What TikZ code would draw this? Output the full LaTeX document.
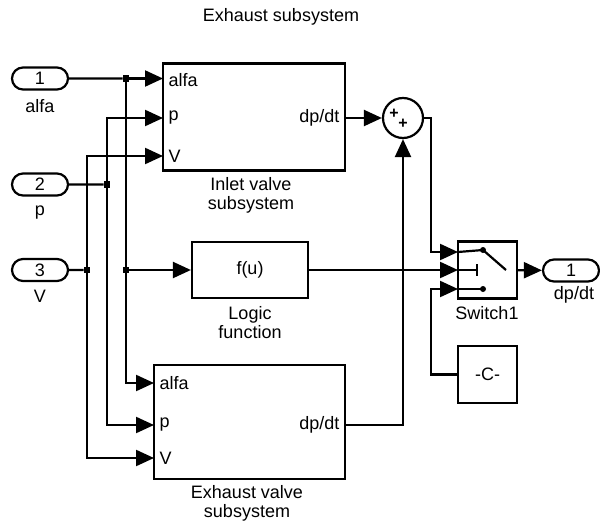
\documentclass[tikz,border=0pt]{standalone}
\usepackage{fontspec}
\setmainfont{Liberation Sans}
\usetikzlibrary{arrows.meta,shapes.misc}

\tikzset{
  blk/.style={draw,line width=2.2pt,inner sep=0pt},
  port/.style={draw,line width=2.2pt,rounded rectangle,minimum width=56pt,minimum height=22pt,inner sep=0pt},
  wire/.style={line width=2.2pt},
  sig/.style={wire,-{Triangle[length=18pt,width=16pt]}},
  jdot/.style={fill,inner sep=0pt,minimum size=6.5pt},
  plus/.style={font=\fontsize{16}{16}\selectfont\bfseries,inner sep=0pt}
}

\begin{document}
\begin{tikzpicture}[x=1pt,y=-1pt,font=\fontsize{18}{19}\selectfont]
\useasboundingbox (0,0) rectangle (600,525);
\node at (281,17) {Exhaust subsystem};
% ports
\node[port] (in1) at (40,78.5) {1}; \node (in1l) at (40,106) {alfa};
\node[port] (in2) at (40,184.5) {2}; \node (in2l) at (40,213) {p};
\node[port] (in3) at (40,270) {3}; \node (in3l) at (40,296) {V};
\node[port] (out1) at (571,270.5) {1}; \node (out1l) at (574,295) {dp/dt};
% blocks
\node[blk,minimum width=182pt,minimum height=107pt] (inlet) at (254,117) {};
\node[blk,minimum width=116pt,minimum height=56pt] (logic) at (250,270) {f(u)};
\node[blk,minimum width=191pt,minimum height=114pt] (exh) at (249.5,422) {};
\node[blk,minimum width=59pt,minimum height=57pt] (sw) at (487.5,270) {};
\node[blk,minimum width=59pt,minimum height=57pt] (const) at (487.5,374.5) {-C-};
\node[draw,circle,line width=2.2pt,minimum size=40pt,inner sep=0pt] (sum) at (403,118) {};
\node[plus] at (394,114) {+};
\node[plus] at (403,124) {+};
% block labels
\node[align=center] at (251,195) {Inlet valve\\subsystem};
\node[align=center] at (250,323) {Logic\\function};
\node[align=center] at (247,503) {Exhaust valve\\subsystem};
\node at (487,313) {Switch1};
% port texts
\node[anchor=west] at (165,80) {alfa}; \node[anchor=west] at (165,118) {p}; \node[anchor=west] at (165,156) {V};
\node[anchor=east] at (343,118) {dp/dt};
\node[anchor=west] at (156,383) {alfa}; \node[anchor=west] at (156,425) {p}; \node[anchor=west] at (156,458) {V};
\node[anchor=east] at (343,425) {dp/dt};
% inputs
\coordinate (ia) at (163,78.5); \coordinate (ip) at (163,118); \coordinate (iv) at (163,156);
\coordinate (ea) at (154,383); \coordinate (ep) at (154,425); \coordinate (ev) at (154,458);
\node[jdot] (ja) at (126,78.5) {}; \node[jdot] (jl) at (126,270) {};
\node[jdot] (jp) at (107,184.5) {}; \node[jdot] (jv) at (87,270) {};
\draw[wire] (in1) -- (ja); \draw[sig] (ja) -- (ia);
\draw[wire] (ja) -- (jl); \draw[sig] (jl) |- (ea); \draw[sig] (jl) -- (logic);
\draw[wire] (in2) -- (jp); \draw[sig] (jp) |- (ip); \draw[sig] (jp) |- (ep);
\draw[wire] (in3) -- (jv); \draw[sig] (jv) |- (iv); \draw[sig] (jv) |- (ev);
% sum and switch
\coordinate (s1) at (458,252); \coordinate (s2) at (458,270); \coordinate (s3) at (458,289);
\coordinate (bs) at (431,118); \coordinate (bc) at (431,374.5);
\draw[sig] (inlet.east |- sum) -- (sum.west);
\draw[sig] (exh.east |- ep) -| (sum.south);
\draw[sig] (sum.east) -- (bs) |- (s1);
\draw[sig] (logic) -- (s2);
\draw[sig] (const.west) -- (bc) |- (s3);
\draw[sig] (sw) -- (out1);
% switch icon
\draw[wire] (s1) -- (483,250) -- (506,270); \fill (483,250) circle (3pt);
\draw[wire] (s2) -- (477,270); \draw[wire] (477,264) -- (477,276);
\draw[wire] (s3) -- (483,289); \fill (483,289) circle (3pt);
\end{tikzpicture}
\end{document}
